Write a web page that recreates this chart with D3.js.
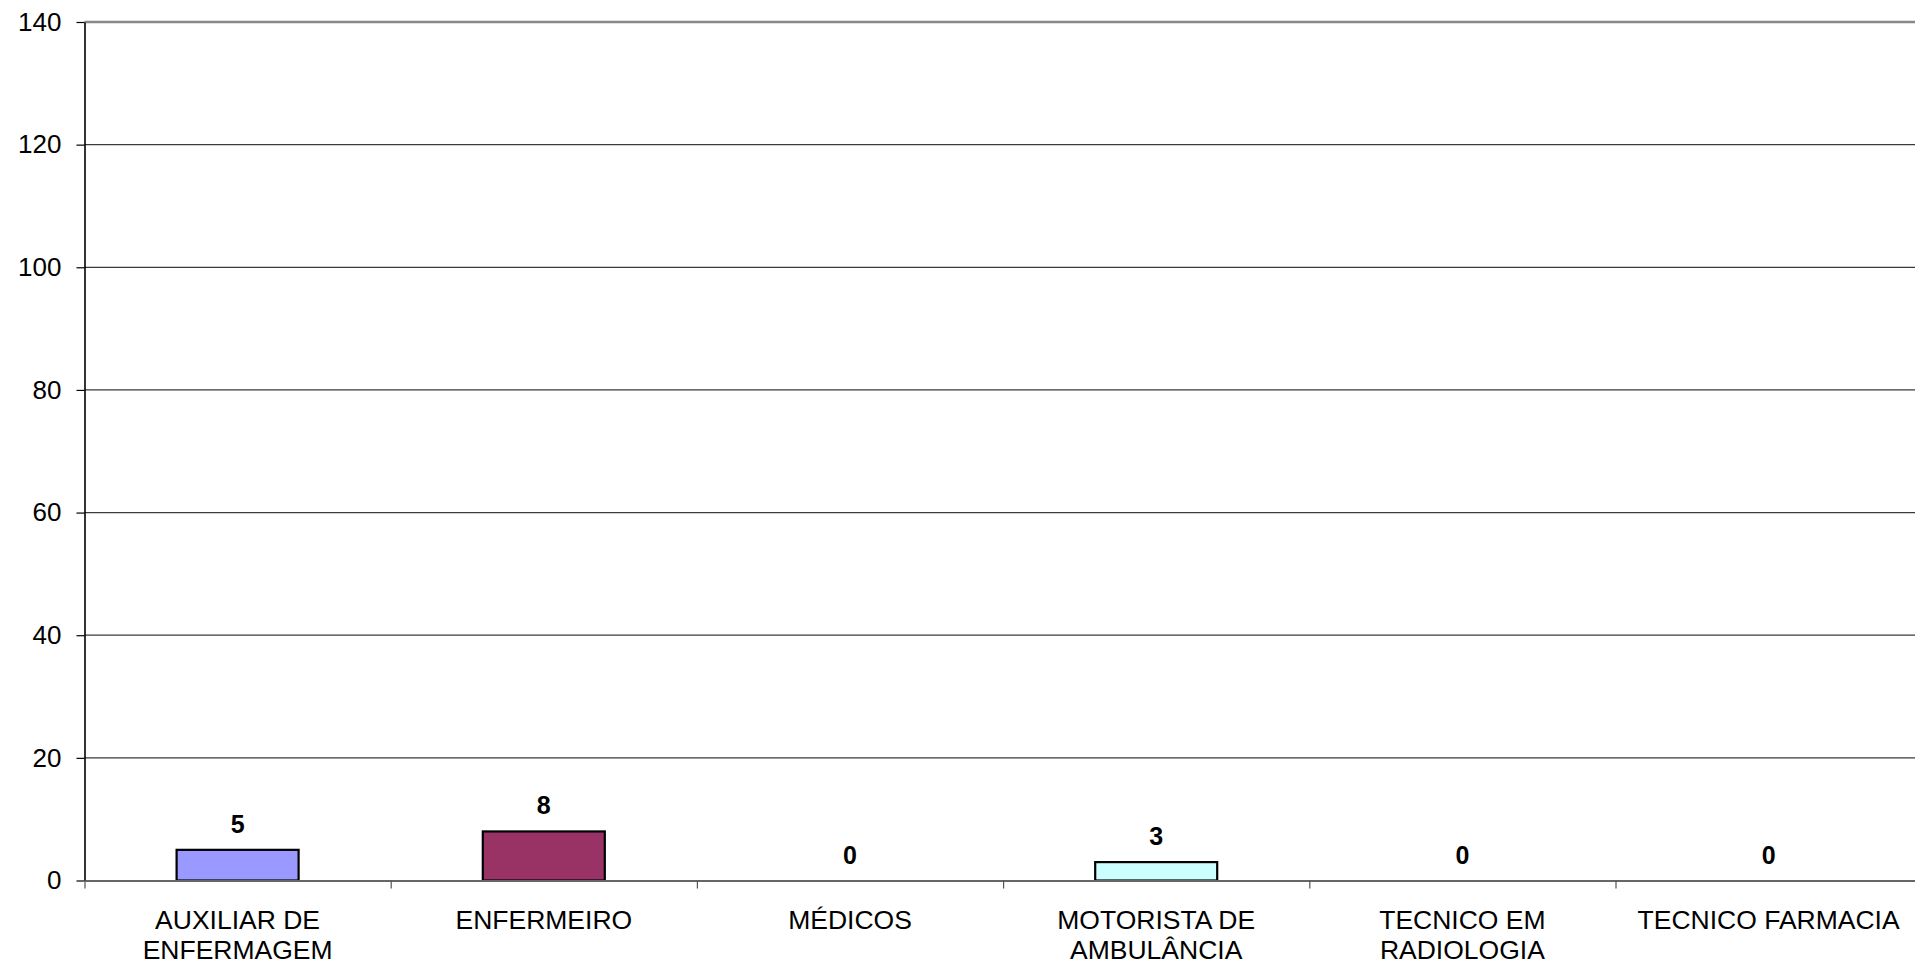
<!DOCTYPE html>
<html><head><meta charset="utf-8">
<script src="https://cdn.jsdelivr.net/npm/d3@7"></script>
<style>html,body{margin:0;padding:0;background:#fff;overflow:hidden}</style>
</head><body>
<svg id="c" width="1915" height="963"></svg>
<script>
const categories = [["AUXILIAR DE","ENFERMAGEM"],["ENFERMEIRO"],["MÉDICOS"],["MOTORISTA DE","AMBULÂNCIA"],["TECNICO EM","RADIOLOGIA"],["TECNICO FARMACIA"]];
const values = [5, 8, 0, 3, 0, 0];
const colors = ["#9999ff","#993366","#ffffcc","#ccffff","#660066","#ff8080"];
const yTicks = [0,20,40,60,80,100,120,140];

const svg = d3.select("#c");
const m = {l:84.5, t:22, b:880.5};
const plotW = 306.2*6;
const x = d3.scaleBand().domain(d3.range(categories.length)).range([m.l, m.l+plotW]).paddingInner(0).paddingOuter(0);
const y = d3.scaleLinear().domain([0,140]).range([m.b, m.t]);
const font = "Arial, 'Liberation Sans', sans-serif";

// gridlines
svg.append("g").selectAll("line").data(yTicks.filter(d=>d>0 && d<140)).join("line")
  .attr("x1", m.l).attr("x2", m.l+plotW).attr("y1", d=>y(d)).attr("y2", d=>y(d))
  .attr("stroke","#3a3a3a").attr("stroke-width",1.2);
// top border
svg.append("line").attr("x1",m.l).attr("x2",m.l+plotW).attr("y1",y(140)).attr("y2",y(140))
  .attr("stroke","#888").attr("stroke-width",2.5);

// bars
svg.append("g").selectAll("rect").data(values).join("rect")
  .attr("x",(d,i)=>x(i)+x.bandwidth()/2-61).attr("width",122)
  .attr("y",d=>y(d)).attr("height",d=>y(0)-y(d))
  .attr("fill",(d,i)=>colors[i]).attr("stroke","#000").attr("stroke-width",2.2)
  .attr("display",d=>d>0?null:"none");

// bar labels
svg.append("g").selectAll("text").data(values).join("text")
  .attr("x",(d,i)=>x(i)+x.bandwidth()/2).attr("y",d=>y(d)-17)
  .attr("text-anchor","middle").attr("font-family",font).attr("font-weight","bold")
  .attr("font-size",25).text(d=>d);

// y axis
const ya = d3.axisLeft(y).tickValues(yTicks).tickSize(8).tickSizeOuter(0).tickPadding(15);
const yg = svg.append("g").attr("transform",`translate(${m.l},0)`).call(ya);
yg.select(".domain").attr("stroke","#000").attr("stroke-width",1.6);
yg.selectAll(".tick line").attr("stroke","#000").attr("stroke-width",1.2);
yg.selectAll(".tick text").attr("font-family",font).attr("font-size",26).attr("fill","#000");

// x axis
const xt = d3.scaleLinear().domain([0,6]).range([m.l, m.l+plotW]);
const xa = d3.axisBottom(xt).tickValues(d3.range(7)).tickSize(8).tickSizeOuter(0).tickFormat("");
const xg = svg.append("g").attr("transform",`translate(0,${m.b})`).call(xa);
xg.select(".domain").attr("stroke","#666").attr("stroke-width",2);
xg.selectAll(".tick line").attr("stroke","#555").attr("stroke-width",1.2);

// category labels
const cl = svg.append("g").selectAll("text").data(categories).join("text")
  .attr("x",(d,i)=>x(i)+x.bandwidth()/2).attr("y",929)
  .attr("text-anchor","middle").attr("font-family",font).attr("font-size",26.5).attr("fill","#000");
cl.selectAll("tspan").data(d=>d).join("tspan")
  .attr("x",function(){return this.parentNode.getAttribute("x");})
  .attr("dy",(d,i)=>i===0?0:30).text(d=>d);
</script>
</body></html>
